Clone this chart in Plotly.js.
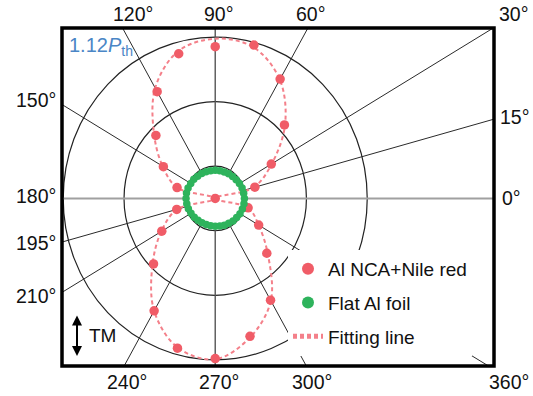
<!DOCTYPE html>
<html><head><meta charset="utf-8">
<script src="https://cdn.plot.ly/plotly-3.0.1.min.js"></script>
<style>html,body{margin:0;padding:0;background:#fff}#chart{width:533px;height:396px}</style>
</head><body><div id="chart"></div>
<script>
// ---- data (polar: angle in degrees, radius in plot units) ----
const nileTheta = [0,15,30,45,60,75,90,105,120,135,150,165,195,210,225,240,255,270,285,300,315,330,345];
const nileR     = [0,1.35,2.13,3.22,4.27,4.92,4.70,4.64,3.82,2.76,1.97,1.30,1.31,2.03,2.87,4.02,4.80,4.96,4.42,3.64,2.40,1.65,1.12];

const foilTheta = [0,10,20,30,40,50,60,70,80,90,100,110,120,130,140,150,160,170,180,190,200,210,220,230,240,250,260,270,280,290,300,310,320,330,340,350];
const foilR     = [0.96,0.95,0.94,0.92,0.90,0.89,0.88,0.87,0.87,0.87,0.87,0.88,0.89,0.90,0.92,0.93,0.95,0.96,0.96,0.95,0.94,0.92,0.90,0.88,0.87,0.86,0.86,0.86,0.87,0.88,0.89,0.91,0.92,0.94,0.95,0.96];

const fitTheta = [0,15,30,45,60,75,90,105,120,135,150,165,180,195,210,225,240,255,270,285,300,315,330,345,360];
const fitR     = [0,1.30,2.15,3.25,4.25,4.85,4.95,4.72,3.95,2.85,2.00,1.30,0,1.30,2.05,2.92,4.02,4.78,4.98,4.45,3.66,2.45,1.65,1.12,0];

const seriesNames = ["Al NCA+Nile red", "Flat Al foil", "Fitting line"];
const spokeAngles = [0,15,30,60,90,120,150,180,195,210,240,270,300,330];
const ringRadii = [1,3,5];
const angleLabels = ["120°","90°","60°","30°","150°","15°","180°","0°","195°","210°","240°","270°","300°","360°"];
const powerLabel = "1.12<i>P</i><sub>th</sub>";
const polLabel = "TM";

// ---- helpers ----
const rad = d => d*Math.PI/180;
const px = (r,t) => r.map((v,i)=>v*Math.cos(rad(t[i])));
const py = (r,t) => r.map((v,i)=>v*Math.sin(rad(t[i])));

const XR = [-5.04, 9.17], YR = [-5.19, 5.28];
const L=62, R=494, T=28, B=366;
const W=533, H=396;
const pxX = x => (x-L)/(R-L);
const pxY = y => (B-y)/(B-T);

const FONT = "Arial, 'Liberation Sans', sans-serif";

const traces = [
  {type:'scatter', mode:'lines', x:px(fitR,fitTheta), y:py(fitR,fitTheta), name:seriesNames[2],
   line:{color:'#f4808a', width:2, dash:'4px,3px', shape:'spline', smoothing:1}, legendgroup:'c', legendrank:3, hoverinfo:'skip'},
  {type:'scatter', mode:'markers', x:px(nileR,nileTheta), y:py(nileR,nileTheta), name:seriesNames[0],
   marker:{color:'#f05c67', size:9.5}, legendgroup:'a', legendrank:1},
  {type:'scatter', mode:'markers', x:px(foilR,foilTheta), y:py(foilR,foilTheta), name:seriesNames[1],
   marker:{color:'#2eb35c', size:7.5}, legendgroup:'b', legendrank:2}
];

const shapes = [];
ringRadii.forEach(r => shapes.push({type:'circle', xref:'x', yref:'y', x0:-r, x1:r, y0:-r, y1:r,
  line:{color:'#222', width:1.2}, layer:'below'}));
spokeAngles.forEach(a => {
  const c = Math.cos(rad(a)), s = Math.sin(rad(a));
  let t = Infinity;
  if (c > 1e-9) t = Math.min(t, XR[1]/c);
  if (c < -1e-9) t = Math.min(t, XR[0]/c);
  if (s > 1e-9) t = Math.min(t, YR[1]/s);
  if (s < -1e-9) t = Math.min(t, YR[0]/s);
  let col = '#2a2a2a', w = 1;
  if (a === 0 || a === 180) { col = '#a0a0a0'; w = 2; }
  else if (a === 90 || a === 270) { col = '#555'; w = 1.4; }
  shapes.push({type:'line', xref:'x', yref:'y', x0:c, y0:s, x1:c*t, y1:s*t, line:{color:col, width:w}, layer:'below'});
});
shapes.push({type:'rect', xref:'paper', yref:'paper', x0:0, x1:1, y0:0, y1:1, line:{color:'#000', width:3.5}, layer:'above'});

const labelPos = [
  [133,14,'center'],[219,14,'center'],[311,14,'center'],[530,14,'right'],
  [57,100,'right'],[499,117,'left'],[57,196,'right'],[501,198,'left'],
  [57,243,'right'],[57,296,'right'],
  [127,382,'center'],[219,382,'center'],[312,382,'center'],[530,382,'right']
];
const annotations = angleLabels.map((t,i)=>({
  text:t, xref:'paper', yref:'paper', x:pxX(labelPos[i][0]), y:pxY(labelPos[i][1]),
  xanchor:labelPos[i][2], yanchor:'middle', showarrow:false, borderpad:0, font:{family:FONT, size:19.5, color:'#111'}
}));
annotations.push({text:powerLabel, xref:'paper', yref:'paper', x:pxX(67), y:pxY(47), xanchor:'left', yanchor:'middle',
  showarrow:false, font:{family:FONT, size:20, color:'#4a86c6'}});
annotations.push({text:'', xref:'paper', yref:'paper', x:pxX(77), y:pxY(356), ax:0, ay:-42,
  showarrow:true, arrowside:'end+start', arrowhead:2, arrowsize:1, arrowwidth:2, arrowcolor:'#000'});
annotations.push({text:polLabel, xref:'paper', yref:'paper', x:pxX(87), y:pxY(335), xanchor:'left', yanchor:'middle',
  showarrow:false, font:{family:FONT, size:19, color:'#111'}});

const layout = {
  width:W, height:H, margin:{l:L, r:W-R, t:T, b:H-B, pad:0},
  paper_bgcolor:'#fff', plot_bgcolor:'#fff',
  xaxis:{range:XR, visible:false, fixedrange:true},
  yaxis:{range:YR, visible:false, fixedrange:true},
  showlegend:true,
  legend:{x:pxX(288), y:pxY(250), xanchor:'left', yanchor:'top', bgcolor:'#fff', borderwidth:0,
    font:{family:FONT, size:19, color:'#111'}, tracegroupgap:6, itemsizing:'constant', traceorder:'grouped'},
  shapes:shapes, annotations:annotations,
  font:{family:FONT}
};
Plotly.newPlot('chart', traces, layout, {displayModeBar:false, staticPlot:true});
</script></body></html>
